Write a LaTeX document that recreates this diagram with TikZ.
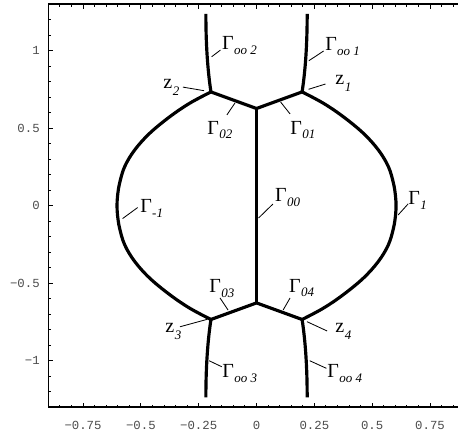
\documentclass[tikz,border=0pt]{standalone}
\usepackage{fontspec}
\setmainfont{Liberation Serif}
\newfontfamily\tickfont{Liberation Mono}
\usetikzlibrary{calc}

% labels: Gamma / z with a lowered italic index
\newcommand{\Gm}[1]{Γ\kern0.2pt\raisebox{-2.6pt}{\fontsize{7.8}{9}\selectfont\itshape #1}}
\newcommand{\zp}[1]{z\kern0.4pt\raisebox{-4.2pt}{\fontsize{7.8}{9}\selectfont\itshape #1}}

\begin{document}
\begin{tikzpicture}[
  x={(4.878cm,0cm)}, y={(0cm,3.269cm)},
  curve/.style={line width=1.9pt, line join=round},
  lead/.style={line width=0.5pt},
  frm/.style={line width=0.9pt},
  tick/.style={line width=0.6pt},
  lab/.style={inner sep=0pt, anchor=base west, font=\fontsize{12}{14}\selectfont},
  tlab/.style={inner sep=0pt, font=\tickfont\fontsize{7.4}{9}\selectfont, text=black!70},
]
\clip (-1.109,-1.461) rectangle (0.871,1.327);

% ------------------------------------------------------------------
% frame, ticks and tick labels
% ------------------------------------------------------------------
\draw[frm] (-0.9,-1.3) rectangle (0.9,1.3);

\foreach \t in {-0.85,-0.8,...,0.86} {
  \draw[tick] (\t,-1.3) -- ++(0,1.4pt);
  \draw[tick] (\t,1.3) -- ++(0,-1.4pt);
}
\foreach \t in {-0.75,-0.5,...,0.76} {
  \draw[tick] (\t,-1.3) -- ++(0,2.6pt);
  \draw[tick] (\t,1.3) -- ++(0,-2.6pt);
}
\foreach \t in {-1.2,-1.1,...,1.25}
  \draw[tick] (-0.9,\t) -- ++(1.4pt,0);
\foreach \t in {-1,-0.5,...,1.1}
  \draw[tick] (-0.9,\t) -- ++(2.6pt,0);

\foreach \t/\s [count=\i] in {-0.75/−0.75,-0.5/−0.5,-0.25/−0.25,0/0,0.25/0.25,0.5/0.5,0.75/0.75}
  \node[tlab] (xt\i) at (\t,-1.415) {\s};
\foreach \t/\s [count=\i] in {1/1,0.5/0.5,0/0,-0.5/−0.5,-1/−1}
  \node[tlab, anchor=east] (yt\i) at (-0.936,\t) {\s};

% ------------------------------------------------------------------
% the curves
% ------------------------------------------------------------------
\coordinate (Z1) at (0.197,0.734);
\coordinate (Z2) at (-0.197,0.734);
\coordinate (Z3) at (-0.197,-0.734);
\coordinate (Z4) at (0.197,-0.734);
\coordinate (T)  at (0,0.627);
\coordinate (B)  at (0,-0.627);

\draw[curve] (Z2) -- (T) -- (Z1);
\draw[curve] (Z3) -- (B) -- (Z4);
\draw[curve] (T) -- (B);

% outer arcs Gamma_1 and Gamma_-1
\foreach \s in {1,-1}
  \draw[curve, xscale=\s] plot[smooth, tension=0.6] coordinates {
    (0.197,0.734) (0.289,0.661) (0.375,0.574) (0.462,0.467) (0.527,0.359)
    (0.570,0.252) (0.592,0.145) (0.601,0.06) (0.603,0) (0.601,-0.06)
    (0.592,-0.145) (0.570,-0.252) (0.527,-0.359) (0.462,-0.467)
    (0.375,-0.574) (0.289,-0.661) (0.197,-0.734)};

% branches to infinity
\foreach \sx/\sy in {1/1,-1/1,-1/-1,1/-1}
  \draw[curve, xscale=\sx, yscale=\sy]
    (0.197,0.734) .. controls (0.212,0.88) and (0.219,1.05) .. (0.219,1.237);

% ------------------------------------------------------------------
% labels with leaders
% ------------------------------------------------------------------
\coordinate (a1) at (0.226,0.935);   \coordinate (b1) at (0.290,0.998);
\draw[lead] (a1) -- (b1);
\node[lab] (goo1) at (0.296,1.0) {\Gm{oo 1}};

\coordinate (a2) at (-0.194,0.961);  \coordinate (b2) at (-0.156,1.004);
\draw[lead] (a2) -- (b2);
\node[lab] (goo2) at (-0.150,1.005) {\Gm{oo 2}};

\coordinate (a3) at (0.225,0.751);   \coordinate (b3) at (0.298,0.785);
\draw[lead] (a3) -- (b3);
\node[lab] (z1) at (0.339,0.785) {\zp{1}};

\coordinate (a4) at (-0.227,0.742);  \coordinate (b4) at (-0.318,0.765);
\draw[lead] (a4) -- (b4);
\node[lab] (z2) at (-0.404,0.759) {\zp{2}};

\coordinate (a5) at (0.104,0.669);   \coordinate (b5) at (0.145,0.592);
\draw[lead] (a5) -- (b5);
\node[lab] (g01) at (0.145,0.462) {\Gm{01}};

\coordinate (a6) at (-0.093,0.663);  \coordinate (b6) at (-0.128,0.586);
\draw[lead] (a6) -- (b6);
\node[lab] (g02) at (-0.214,0.462) {\Gm{02}};

\coordinate (a7) at (-0.579,-0.083); \coordinate (b7) at (-0.514,-0.012);
\draw[lead] (a7) -- (b7);
\node[lab] (gm1) at (-0.504,-0.047) {\Gm{-1}};

\coordinate (a8) at (0.612,-0.060);  \coordinate (b8) at (0.655,0.011);
\draw[lead] (a8) -- (b8);
\node[lab] (g1) at (0.655,0.005) {\Gm{1}};

\coordinate (a9) at (0.009,-0.079);  \coordinate (b9) at (0.071,0.011);
\draw[lead] (a9) -- (b9);
\node[lab] (g00) at (0.079,0.024) {\Gm{00}};

\coordinate (a10) at (-0.123,-0.673); \coordinate (b10) at (-0.158,-0.595);
\draw[lead] (a10) -- (b10);
\node[lab] (g03) at (-0.205,-0.563) {\Gm{03}};

\coordinate (a11) at (0.115,-0.673);  \coordinate (b11) at (0.145,-0.595);
\draw[lead] (a11) -- (b11);
\node[lab] (g04) at (0.140,-0.557) {\Gm{04}};

\coordinate (a12) at (-0.213,-0.733); \coordinate (b12) at (-0.331,-0.781);
\draw[lead] (a12) -- (b12);
\node[lab] (z3) at (-0.396,-0.815) {\zp{3}};

\coordinate (a13) at (0.218,-0.748);  \coordinate (b13) at (0.305,-0.808);
\draw[lead] (a13) -- (b13);
\node[lab] (z4) at (0.339,-0.815) {\zp{4}};

\coordinate (a14) at (-0.205,-1.0);   \coordinate (b14) at (-0.150,-1.039);
\draw[lead] (a14) -- (b14);
\node[lab] (goo3) at (-0.149,-1.111) {\Gm{oo 3}};

\coordinate (a15) at (0.230,-1.0);    \coordinate (b15) at (0.302,-1.049);
\draw[lead] (a15) -- (b15);
\node[lab] (goo4) at (0.305,-1.111) {\Gm{oo 4}};
\end{tikzpicture}
\end{document}
